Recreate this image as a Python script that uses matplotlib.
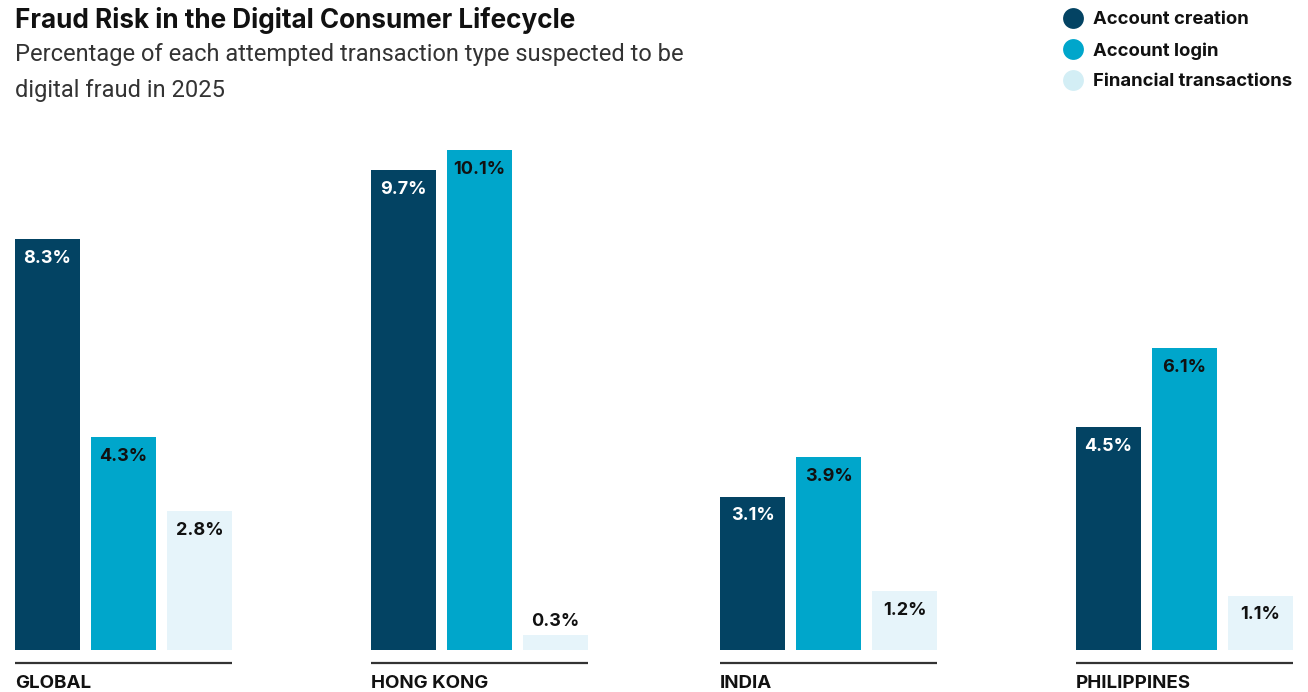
import numpy as np
import matplotlib.pyplot as plt
from matplotlib.lines import Line2D

regions = ['GLOBAL', 'HONG KONG', 'INDIA', 'PHILIPPINES']
series = ['Account creation', 'Account login', 'Financial transactions']
account_creation = [8.3, 9.7, 3.1, 4.5]
account_login = [4.3, 10.1, 3.9, 6.1]
financial_tx = [2.8, 0.3, 1.2, 1.1]

colors = ['#034363', '#00A6CB', '#E6F4FA']
dot_colors = ['#034363', '#00A6CB', '#D3EEF5']
label_colors = ['white', '#111111', '#111111']

W, H = 1308, 692
fig = plt.figure(figsize=(W / 100, H / 100), dpi=100)

# axes in pixel-ish x units, percent on y
px_per_pct = 49.5
base_px = 650
top_px = 100
ax = fig.add_axes([0, 0, 1, (H - top_px) / H])
ax.set_xlim(0, W)
ax.set_ylim(-(H - base_px) / px_per_pct, (base_px - top_px) / px_per_pct)
ax.axis('off')

group_left = [15, 371, 720, 1076]
bar_w = 65
step = 76

values = [account_creation, account_login, financial_tx]
bold = ['Inter', 'DejaVu Sans']
lab_font = dict(family=bold, fontweight='bold', fontsize=13)

for i, vals in enumerate(values):
    xs = np.array(group_left) + i * step + bar_w / 2
    bars = ax.bar(xs, vals, width=bar_w, color=colors[i], linewidth=0)
    for b, v in zip(bars, vals):
        cx = b.get_x() + b.get_width() / 2
        if v < 0.6:
            ax.annotate(f'{v}%', (cx, v), xytext=(0, 10), textcoords='offset points',
                        ha='center', va='center', color='#111111', **lab_font)
        else:
            ax.annotate(f'{v}%', (cx, v), xytext=(0, -14), textcoords='offset points',
                        ha='center', va='center', color=label_colors[i], **lab_font)

# baseline rule and region name under each group
for x0, name in zip(group_left, regions):
    x1 = x0 + 2 * step + bar_w
    y_rule = -13 / px_per_pct
    ax.plot([x0, x1], [y_rule, y_rule], color='#333333', lw=1.6, solid_capstyle='butt')
    ax.text(x0, -34 / px_per_pct, name, ha='left', va='center', color='#111111',
            family=bold, fontweight='bold', fontsize=13.5)

# title and subtitle
fig.text(15 / W, 1 - 21 / H, 'Fraud Risk in the Digital Consumer Lifecycle',
         ha='left', va='center', fontsize=18.8, fontweight='bold',
         family=bold, color='#111111')
fig.text(15 / W, 1 - 55 / H, 'Percentage of each attempted transaction type suspected to be',
         ha='left', va='center', fontsize=17, fontweight='normal',
         family=['Roboto', 'DejaVu Sans'], color='#333333')
fig.text(15 / W, 1 - 90 / H, 'digital fraud in 2025',
         ha='left', va='center', fontsize=17, fontweight='normal',
         family=['Roboto', 'DejaVu Sans'], color='#333333')

# legend drawn as dots plus labels
for k, name in enumerate(series):
    cy = 1 - (18 + 31 * k) / H
    fig.add_artist(Line2D([1073 / W], [cy], transform=fig.transFigure, marker='o',
                          markersize=15, markerfacecolor=dot_colors[k],
                          markeredgewidth=0, linestyle='none'))
    fig.text(1093 / W, cy - 2 / H, name, ha='left', va='center', fontsize=13.3,
             fontweight='bold', family=bold, color='#111111')

fig.savefig('out.png', dpi=100)
